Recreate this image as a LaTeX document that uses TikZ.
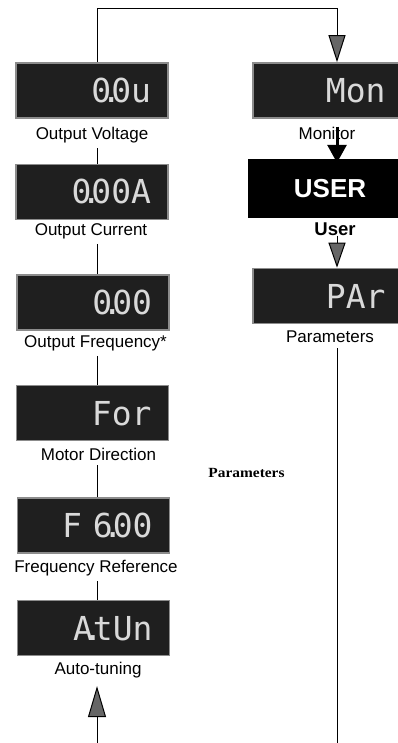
\documentclass[tikz,border=0pt]{standalone}
\usepackage{fontspec}
\setmainfont{Liberation Sans}
\newfontfamily\lcdfont{DejaVu Sans Mono}
\newfontfamily\oldserif{Liberation Serif}
\usetikzlibrary{arrows.meta}

\tikzset{
  lcd/.style={draw=black!45, line width=1.6pt, fill=black!88, minimum width=152pt, minimum height=55pt,
    inner sep=0pt, text width=118pt, align=right, text height=24pt, text depth=0pt,
    font=\lcdfont\fontsize{33}{33}\selectfont, text=white!85!black},
  lbl/.style={inner sep=0pt, font=\fontsize{17}{20}\selectfont},
  link/.style={line width=1pt},
  greytip/.style={-{Triangle[length=#1,width=17pt,fill=black!60]}},
}
\newcommand{\lcddot}{\makebox[0pt]{.}}

\begin{document}
\begin{tikzpicture}[x=1pt,y=-1pt]
  \useasboundingbox (0,0) rectangle (398,743);
  \coordinate (sL) at (97,0); \coordinate (sR) at (337,0);
  \coordinate (top) at (0,9); \coordinate (bot) at (0,743);

  \node[lcd] (dV) at (92,90.5) {0\lcddot0u};
  \node[lbl] (lV) at (92,135) {Output Voltage};
  \node[lcd] (dI) at (92,192) {0\lcddot00A};
  \node[lbl] (lI) at (91,231) {Output Current};
  \node[lcd] (dF) at (93,302.5) {0\lcddot00};
  \node[lbl] (lF) at (95.5,343) {Output Frequency*};
  \node[lcd] (dD) at (92.5,413) {For};
  \node[lbl] (lD) at (98.5,454) {Motor Direction};
  \node[lcd] (dR) at (93.5,525.5) {F 6\lcddot00};
  \node[lbl] (lR) at (96,568) {Frequency Reference};
  \node[lcd] (dT) at (93.5,628) {A\lcddot tUn};
  \node[lbl] (lT) at (98,670) {Auto-tuning};

  \node[lcd, minimum width=147pt] (dM) at (326.5,90.5) {Mon};
  \node[lbl] (lM) at (327,133) {Monitor};
  \node[fill=black, minimum width=164pt, minimum height=59pt, text=white,
    font=\bfseries\fontsize{26}{26}\selectfont] (user) at (330,188.5) {USER};
  \node[lbl, font=\bfseries\fontsize{18.5}{20}\selectfont] (lU) at (335,229) {User};
  \node[lcd, minimum width=147pt] (dP) at (326.5,296) {PAr};
  \node[lbl] (lP) at (330,337) {Parameters};
  \node[inner sep=0pt, xscale=1.1, font=\oldserif\bfseries\fontsize{14}{14}\selectfont] (nP) at (246.5,473) {Parameters};

  \draw[link] ([yshift=-5pt]lV.south -| sL) -- (dI.north -| sL);
  \draw[link] ([yshift=-5pt]lI.south -| sL) -- (dF.north -| sL);
  \draw[link] ([yshift=-5pt]lF.south -| sL) -- (dD.north -| sL);
  \draw[link] ([yshift=-5pt]lD.south -| sL) -- (dR.north -| sL);
  \draw[link] ([yshift=-5pt]lR.south -| sL) -- (dT.north -| sL);

  \draw[link, greytip=27pt] (dV.north -| sL) -- (sL |- top) -- (sR |- top) -- (dM.north -| sR);
  \draw[line width=3pt, -{Triangle[length=18pt,width=19pt]}] (lM.north -| sR) -- ([yshift=-4pt]user.north -| sR);
  \draw[link, greytip=25pt] (lU.south -| sR) -- (dP.north -| sR);
  \draw[link] ([yshift=-5pt]lP.south -| sR) -- (sR |- bot);
  \draw[link, -{Triangle[length=31pt,width=18pt,fill=black!60]}] (sL |- bot) -- ([yshift=-8pt]lT.south -| sL);
\end{tikzpicture}
\end{document}
